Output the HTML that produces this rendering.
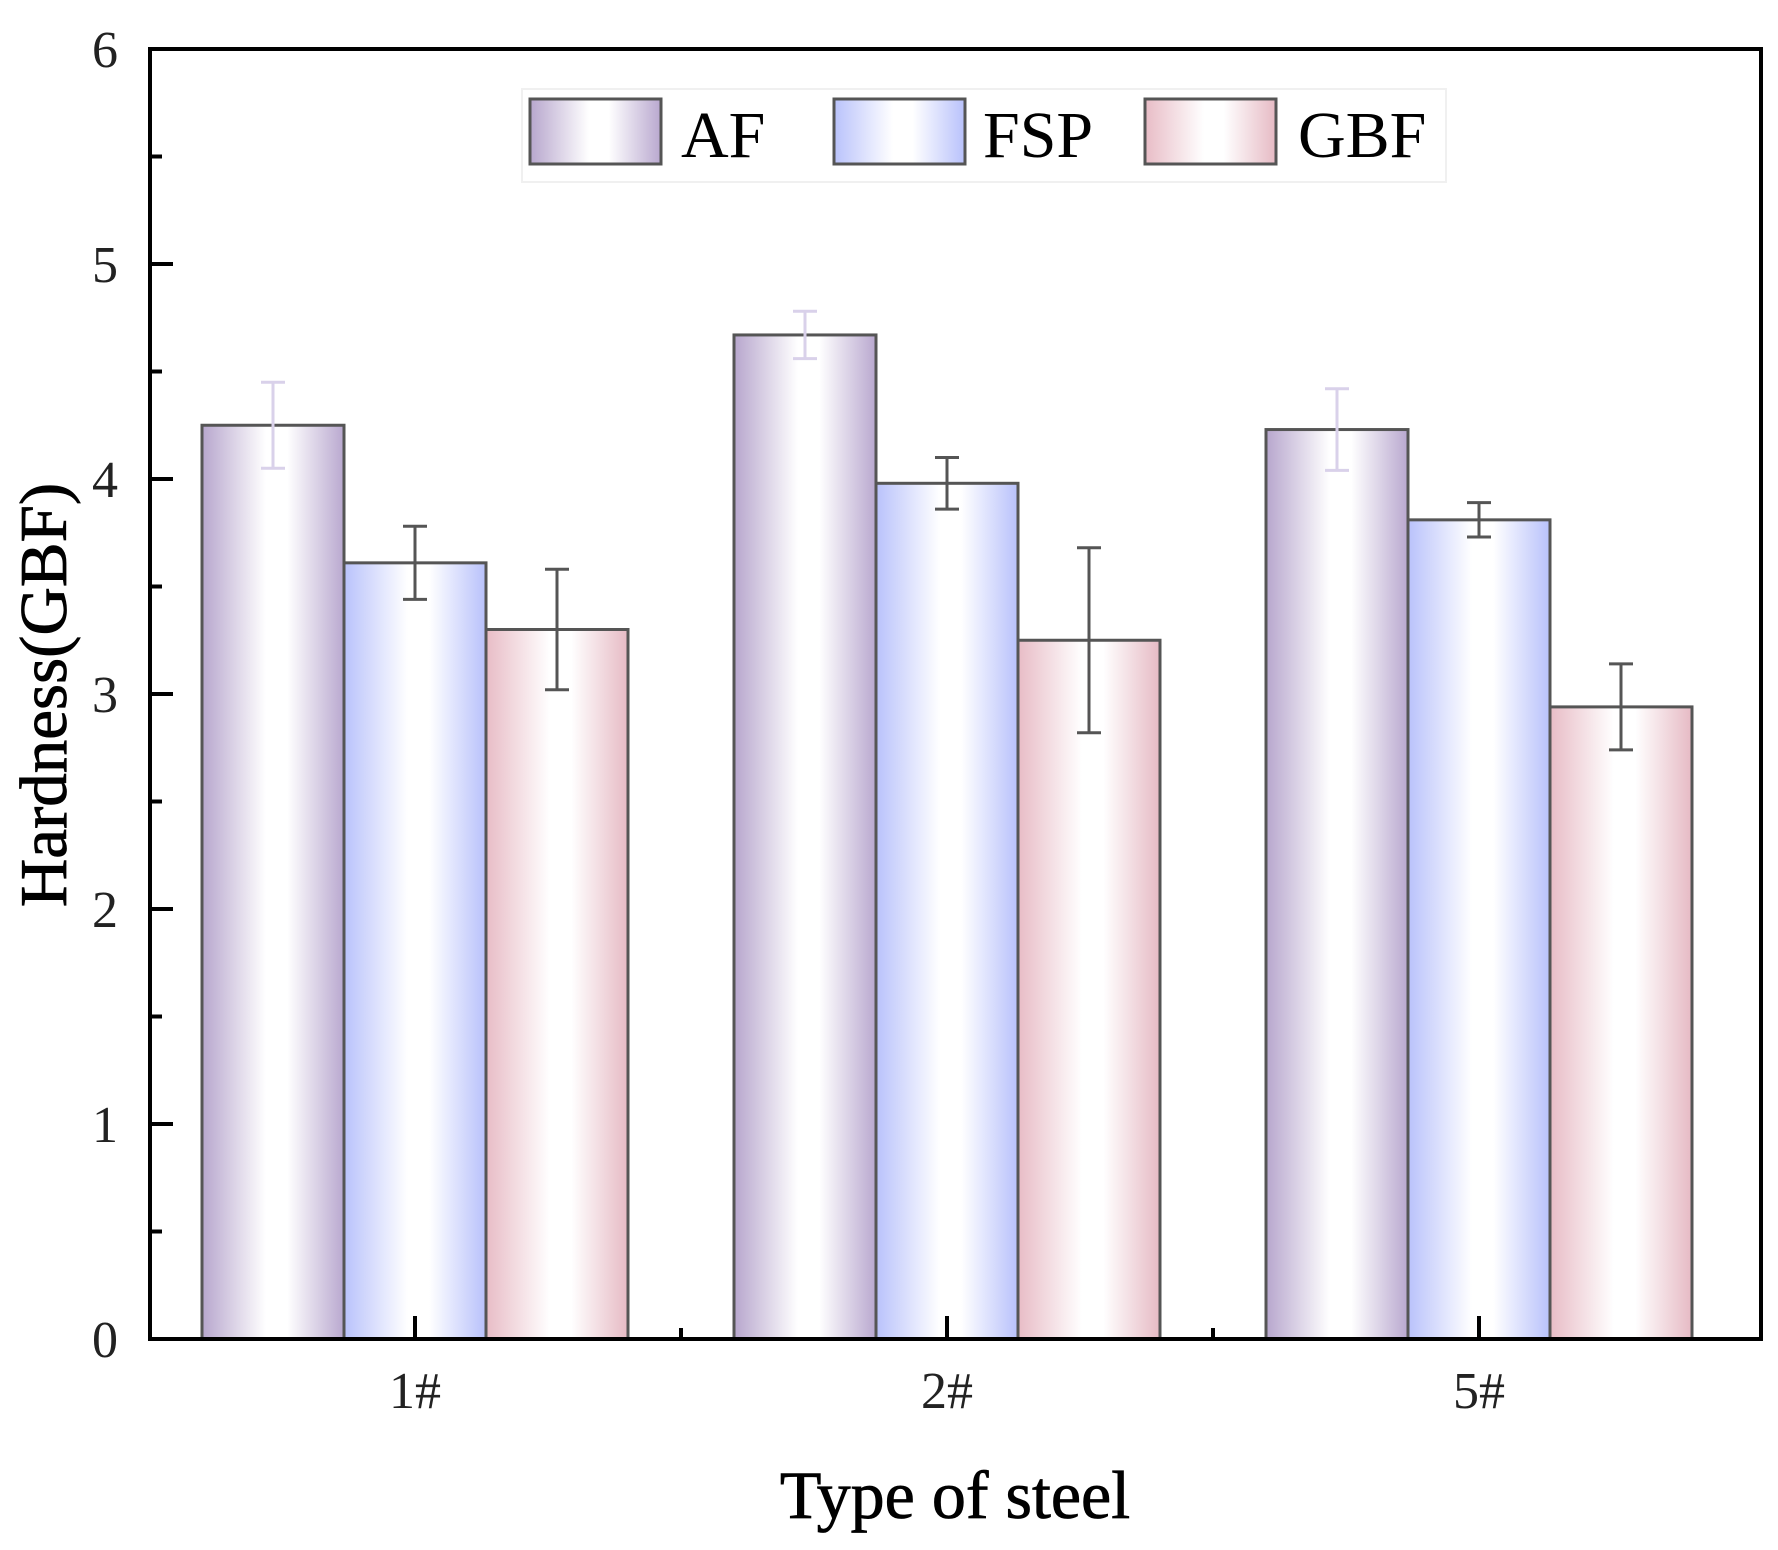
<!DOCTYPE html>
<html><head><meta charset="utf-8"><style>
html,body{margin:0;padding:0;background:#fff;}
svg text{font-family:"Liberation Serif",serif;}
</style></head><body>
<svg id="chart" width="1778" height="1545" viewBox="0 0 1778 1545" xmlns="http://www.w3.org/2000/svg">
<defs>
<linearGradient id="gAF" x1="0" x2="1" y1="0" y2="0">
<stop offset="0" stop-color="#b7a6cd"/><stop offset="0.45" stop-color="#ffffff"/><stop offset="0.6" stop-color="#ffffff"/><stop offset="1" stop-color="#b9a8cf"/></linearGradient>
<linearGradient id="gFSP" x1="0" x2="1" y1="0" y2="0">
<stop offset="0" stop-color="#b9c2fb"/><stop offset="0.45" stop-color="#ffffff"/><stop offset="0.6" stop-color="#ffffff"/><stop offset="1" stop-color="#b8c1fb"/></linearGradient>
<linearGradient id="gGBF" x1="0" x2="1" y1="0" y2="0">
<stop offset="0" stop-color="#e8bcc6"/><stop offset="0.45" stop-color="#ffffff"/><stop offset="0.6" stop-color="#ffffff"/><stop offset="1" stop-color="#e6bac4"/></linearGradient>
</defs>
<g id="bars"></g>
<g id="axes"></g>
<g id="legend">
<rect x="522" y="89" width="924" height="93" fill="#fff" stroke="#f0f0f0" stroke-width="2"/>
<rect x="530" y="99" width="131" height="65" fill="url(#gAF)" stroke="#555" stroke-width="3"/>
<text x="681" y="157" font-size="66">AF</text>
<rect x="834" y="99" width="131" height="65" fill="url(#gFSP)" stroke="#555" stroke-width="3"/>
<text x="983" y="157" font-size="66">FSP</text>
<rect x="1145" y="99" width="131" height="65" fill="url(#gGBF)" stroke="#555" stroke-width="3"/>
<text x="1298" y="157" font-size="66">GBF</text>
</g>
<text transform="translate(66,695) rotate(-90)" text-anchor="middle" font-size="67" stroke="#000" stroke-width="0.8">Hardness(GBF)</text>
<text x="955" y="1518" text-anchor="middle" font-size="68" stroke="#000" stroke-width="0.8">Type of steel</text>
</svg>
<script>
const categories = ["1#", "2#", "5#"];
const seriesNames = ["AF", "FSP", "GBF"];
const afValues = [4.25, 4.67, 4.23];
const fspValues = [3.61, 3.98, 3.81];
const gbfValues = [3.30, 3.25, 2.94];
const afErrors = [0.20, 0.11, 0.19];
const fspErrors = [0.17, 0.12, 0.08];
const gbfErrors = [0.28, 0.43, 0.20];
const yTicks = [0, 1, 2, 3, 4, 5, 6];

const NS = "http://www.w3.org/2000/svg";
const L = 150, R = 1761, T = 49, B = 1339, yMax = 6;
const yScale = v => B - (v / yMax) * (B - T);
const barW = 142;
function mk(tag, attrs, parent) {
  const e = document.createElementNS(NS, tag);
  for (const k in attrs) e.setAttribute(k, attrs[k]);
  parent.appendChild(e);
  return e;
}
const barsG = document.getElementById("bars");
const axesG = document.getElementById("axes");
const series = [afValues, fspValues, gbfValues];
const errs = [afErrors, fspErrors, gbfErrors];
const fills = ["url(#gAF)", "url(#gFSP)", "url(#gGBF)"];
const errColors = ["#d9d1ea", "#555", "#555"];
const centers = categories.map((c, i) => 415 + 532 * i);
categories.forEach((c, i) => {
  series.forEach((vals, s) => {
    const x = centers[i] - 1.5 * barW + s * barW;
    const y = yScale(vals[i]);
    const r = mk("rect", {x: x, y: y, width: barW, height: B - y, fill: fills[s], stroke: "#555", "stroke-width": 3}, barsG);
    
    
  });
});
categories.forEach((c, i) => {
  series.forEach((vals, s) => {
    const cx = centers[i] - barW + s * barW;
    const y1 = yScale(vals[i] + errs[s][i]), y2 = yScale(vals[i] - errs[s][i]);
    const g = mk("g", {stroke: errColors[s], "stroke-width": 3}, barsG);
    
    
    mk("line", {x1: cx, x2: cx, y1: y1, y2: y2}, g);
    mk("line", {x1: cx - 12, x2: cx + 12, y1: y1, y2: y1}, g);
    mk("line", {x1: cx - 12, x2: cx + 12, y1: y2, y2: y2}, g);
  });
});
const frame = mk("rect", {x: L, y: T, width: R - L, height: B - T, fill: "none", stroke: "#000", "stroke-width": 4}, axesG);


yTicks.forEach(v => {
  const y = yScale(v);
  const t = mk("line", {x1: L, x2: L + 23, y1: y, y2: y, stroke: "#000", "stroke-width": 4}, axesG);
  
  
  if (v < yMax) {
    const ym = yScale(v + 0.5);
    const m = mk("line", {x1: L, x2: L + 12, y1: ym, y2: ym, stroke: "#000", "stroke-width": 4}, axesG);
    
    
  }
  const lb = mk("text", {x: 118, y: y + 18, "text-anchor": "end", "font-size": 52, fill: "#222"}, axesG);
  lb.textContent = v;
  
  
});
categories.forEach((c, i) => {
  const x = centers[i];
  const t = mk("line", {x1: x, x2: x, y1: B, y2: B - 23, stroke: "#000", "stroke-width": 4}, axesG);
  
  
  if (i < categories.length - 1) {
    const xm = x + 266;
    const m = mk("line", {x1: xm, x2: xm, y1: B, y2: B - 11, stroke: "#000", "stroke-width": 4}, axesG);
    
    
  }
  const lb = mk("text", {x: x, y: 1408, "text-anchor": "middle", "font-size": 52, fill: "#222"}, axesG);
  lb.textContent = c;
  
  
});
</script>
</body></html>
